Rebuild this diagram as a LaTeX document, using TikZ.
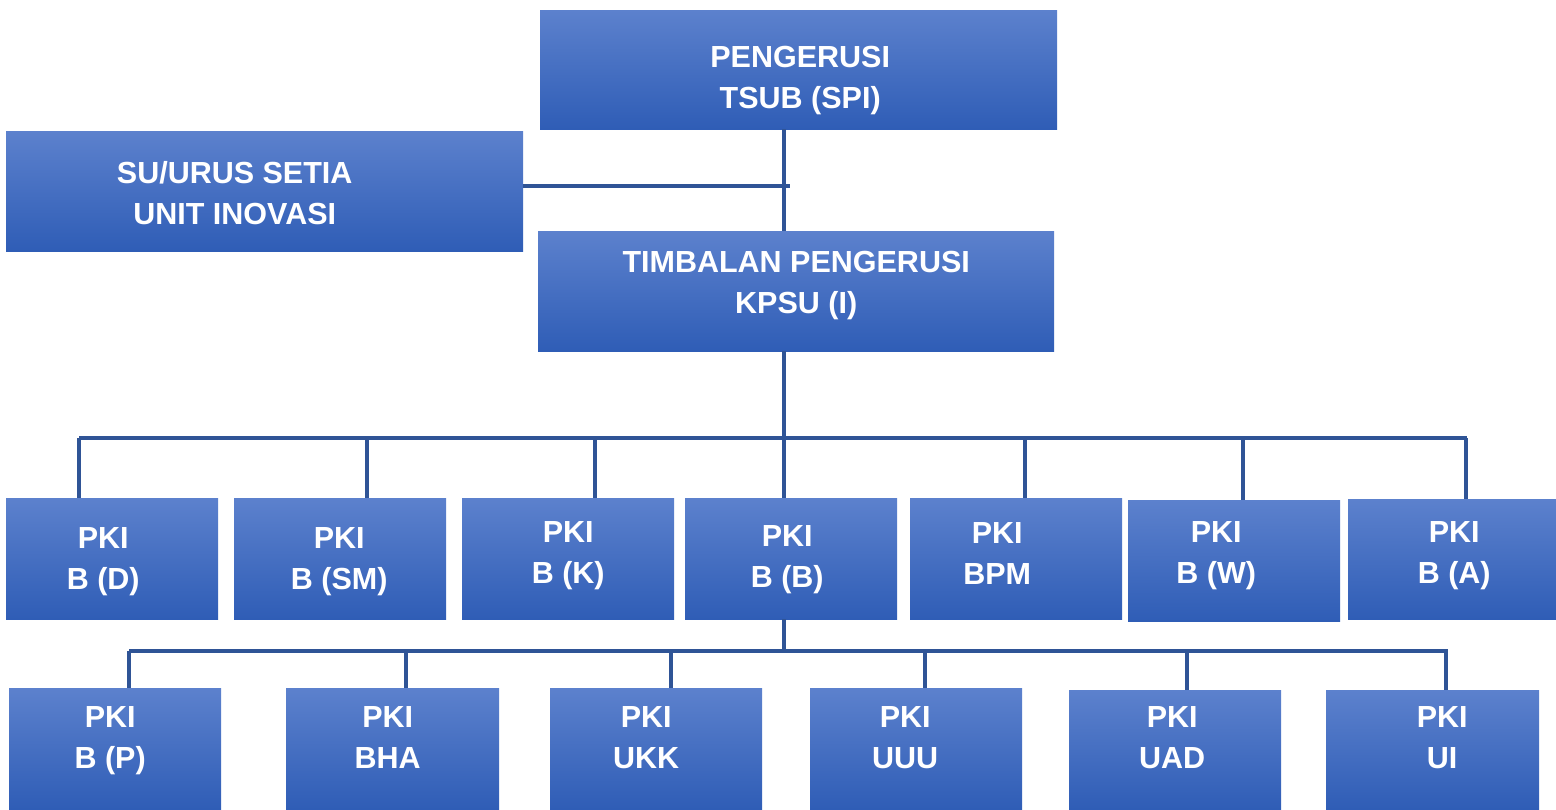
\documentclass[tikz,border=0pt]{standalone}
\usepackage{fontspec}
\setmainfont{Liberation Sans}
\usetikzlibrary{calc}
\definecolor{boxtop}{HTML}{5C81CD}
\definecolor{boxmid}{HTML}{3D6FCB}
\definecolor{boxbot}{HTML}{2F5DB6}
\definecolor{linkblue}{HTML}{2F5496}
\tikzset{
  orgbox/.style={rectangle, anchor=north west, inner sep=0pt, draw=none,
    top color=boxtop, middle color=boxmid, bottom color=boxbot},
  orgtext/.style={font=\fontsize{30.5}{41}\selectfont\bfseries, text=white,
    align=center, inner sep=0pt},
  link/.style={draw=linkblue, line width=3.5pt}
}
% \unitbox: name, left, top, right, bottom (pixels from the top-left corner)
\newcommand{\unitbox}[5]{%
  \node[orgbox, minimum width={#4-#2}, minimum height={#5-#3}] (#1) at (#2,-#3) {};}
% \unitlabel: box name, x shift, y shift (down positive), first line, second line
\newcommand{\unitlabel}[5]{%
  \node[orgtext] (#1-t) at ($(#1.center)+(#2,-#3)$) {#4\\#5\vphantom{()}};}
\begin{document}
\begin{tikzpicture}[x=1pt, y=1pt]
\useasboundingbox (0,0) rectangle (1556,-809);

% top management
\unitbox{spi}{540}{10}{1057}{129}
\unitbox{su}{6}{131}{523}{251}
\unitbox{kpsu}{538}{231}{1054}{351}

% first row of units
\unitbox{bd}{6}{498}{218}{619}
\unitbox{bsm}{234}{498}{446}{619}
\unitbox{bk}{462}{498}{674}{619}
\unitbox{bb}{685}{498}{897}{619}
\unitbox{bpm}{910}{498}{1122}{619}
\unitbox{bw}{1128}{500}{1340}{621}
\unitbox{ba}{1348}{499}{1556}{619}

% second row of units
\unitbox{bp}{9}{688}{221}{809}
\unitbox{bha}{286}{688}{499}{809}
\unitbox{ukk}{550}{688}{762}{809}
\unitbox{uuu}{810}{688}{1022}{809}
\unitbox{uad}{1069}{690}{1281}{809}
\unitbox{ui}{1326}{690}{1539}{809}

% labels
\unitlabel{spi}{1.5}{11}{PENGERUSI}{TSUB (SPI)}
\unitlabel{su}{-30}{5}{SU/URUS SETIA}{UNIT INOVASI}
\unitlabel{kpsu}{0}{-6}{TIMBALAN PENGERUSI}{KPSU (I)}
\unitlabel{bd}{-9}{3}{PKI}{B (D)}
\unitlabel{bsm}{-1}{3}{PKI}{B (SM)}
\unitlabel{bk}{0}{-3.5}{PKI}{B (K)}
\unitlabel{bb}{-4}{0.5}{PKI}{B (B)}
\unitlabel{bpm}{-19}{-2}{PKI}{BPM}
\unitlabel{bw}{-18}{-5.5}{PKI}{B (W)}
\unitlabel{ba}{2}{-4}{PKI}{B (A)}
\unitlabel{bp}{-5}{-8.5}{PKI}{B (P)}
\unitlabel{bha}{-5}{-8}{PKI}{BHA}
\unitlabel{ukk}{-10}{-8}{PKI}{UKK}
\unitlabel{uuu}{-11}{-8}{PKI}{UUU}
\unitlabel{uad}{-3}{-9.5}{PKI}{UAD}
\unitlabel{ui}{9.5}{-9.5}{PKI}{UI}

% connectors
\coordinate (jsu) at (790,-186);
\coordinate (bus1) at (784,-438);
\coordinate (bus2) at (784,-651);

\draw[link] (spi.south -| bus1) -- (kpsu.north -| bus1);
\draw[link] (su.east |- jsu) -- (jsu);
\draw[link] (kpsu.south -| bus1) -- (bus1);
\draw[link] (79,-438) coordinate (b1l) -- (1467,-438) coordinate (b1r);
\foreach \n/\x in {bd/79, bsm/367, bk/595, bb/784, bpm/1025, bw/1243, ba/1466}
  \draw[link] (\x,-438) -- (\n.north -| \x,0);

\draw[link] (bb.south -| bus2) -- (bus2);
\draw[link] (129,-651) coordinate (b2l) -- (1448,-651) coordinate (b2r);
\foreach \n/\x in {bp/129, bha/406, ukk/671, uuu/925, uad/1187, ui/1446}
  \draw[link] (\x,-651) -- (\n.north -| \x,0);
\end{tikzpicture}
\end{document}
